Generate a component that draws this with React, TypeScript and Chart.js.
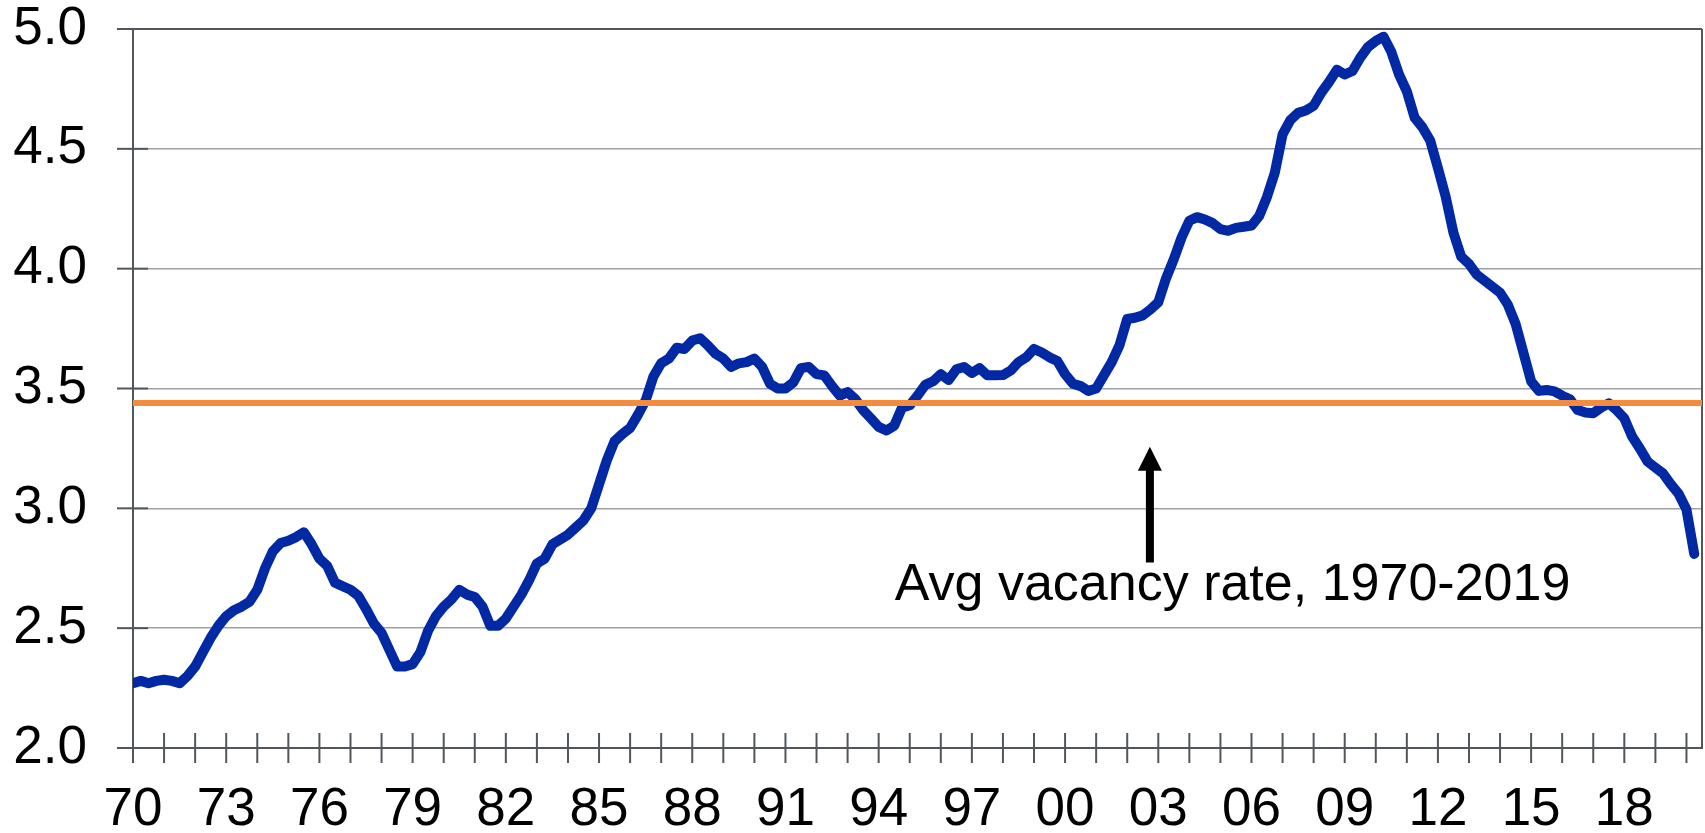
import { useEffect, useRef } from "react";
import { Chart, registerables } from "chart.js";

Chart.register(...registerables);

// ---- Data (quarterly, starting 1970 Q1) ----
const startYear = 1970;
const vacancy1970s = [
  2.27, 2.28, 2.27, 2.28,
  2.285, 2.28, 2.27, 2.3,
  2.34, 2.4, 2.46, 2.51,
  2.55, 2.575, 2.59, 2.61,
  2.66, 2.75, 2.82, 2.855,
  2.865, 2.88, 2.9, 2.85,
  2.79, 2.76, 2.69, 2.675,
  2.66, 2.635, 2.58, 2.52,
  2.48, 2.41, 2.34, 2.34,
  2.35, 2.4, 2.49, 2.55,
];
const vacancy1980s = [
  2.59, 2.62, 2.66, 2.64,
  2.63, 2.59, 2.51, 2.51,
  2.54, 2.59, 2.64, 2.7,
  2.77, 2.79, 2.85, 2.87,
  2.89, 2.92, 2.95, 3.0,
  3.1, 3.2, 3.28, 3.31,
  3.335, 3.39, 3.45, 3.55,
  3.605, 3.625, 3.67, 3.665,
  3.7, 3.71, 3.68, 3.645,
  3.625, 3.59, 3.605, 3.61,
];
const vacancy1990s = [
  3.625, 3.59, 3.52, 3.5,
  3.5, 3.525, 3.585, 3.59,
  3.56, 3.555, 3.51, 3.47,
  3.485, 3.455, 3.41, 3.375,
  3.34, 3.325, 3.345, 3.42,
  3.43, 3.47, 3.515, 3.53,
  3.56, 3.535, 3.58, 3.59,
  3.565, 3.585, 3.555, 3.555,
  3.556, 3.575, 3.61, 3.63,
  3.665, 3.65, 3.63, 3.615,
];
const vacancy2000s = [
  3.56, 3.52, 3.51, 3.49,
  3.5, 3.555, 3.61, 3.68,
  3.79, 3.795, 3.805, 3.83,
  3.86, 3.96, 4.04, 4.13,
  4.2, 4.215, 4.205, 4.19,
  4.165, 4.158, 4.17, 4.175,
  4.18, 4.22, 4.3, 4.4,
  4.56, 4.62, 4.65, 4.66,
  4.68, 4.735, 4.78, 4.83,
  4.81, 4.825, 4.88, 4.925,
];
const vacancy2010s = [
  4.95, 4.968, 4.905, 4.81,
  4.74, 4.63, 4.59, 4.535,
  4.42, 4.3, 4.15, 4.05,
  4.02, 3.975, 3.95, 3.925,
  3.9, 3.85, 3.77, 3.65,
  3.53, 3.49, 3.494, 3.488,
  3.47, 3.455, 3.41, 3.4,
  3.397, 3.42, 3.438, 3.41,
  3.375, 3.3, 3.25, 3.195,
  3.17, 3.145, 3.1, 3.06,
];
const vacancy2020s = [2.995, 2.81];

const avgVacancy = 3.44;
const avgSpan = [1970, 2020.5];

const xTickYears = [1970, 1973, 1976, 1979, 1982, 1985, 1988, 1991, 1994, 1997, 2000, 2003, 2006, 2009, 2012, 2015, 2018];
const xTickLabels = ["70", "73", "76", "79", "82", "85", "88", "91", "94", "97", "00", "03", "06", "09", "12", "15", "18"];
const yTickValues = [2.0, 2.5, 3.0, 3.5, 4.0, 4.5, 5.0];

const annotationText = "Avg vacancy rate, 1970-2019";
// annotation anchor positions in data units
const arrowX = 2002.73;
const arrowTipY = 3.257;
const arrowBaseY = 2.774;
const textX = 1994.52;
const textBaselineY = 2.618;

// ---- Styles ----
const FONT = '"Liberation Sans", Arial, sans-serif';
const DARK = "#50565c";
const GRID = "#9ea1a4";
const BLUE = "#0029a3";
const ORANGE = "#f58b3c";

const decorPlugin = {
  id: "decor",
  beforeDatasetsDraw(chart: any) {
    const { ctx, chartArea: a, scales } = chart;
    const x = scales.x;
    const y = scales.y;
    ctx.save();
    ctx.strokeStyle = DARK;
    ctx.lineWidth = 2;
    // top frame
    ctx.beginPath();
    ctx.moveTo(a.left - 16, a.top);
    ctx.lineTo(a.right, a.top);
    ctx.stroke();
    // right frame
    ctx.beginPath();
    ctx.moveTo(a.right, a.top);
    ctx.lineTo(a.right, a.bottom);
    ctx.stroke();
    // y cross ticks
    yTickValues.forEach((v) => {
      const py = y.getPixelForValue(v);
      ctx.beginPath();
      ctx.moveTo(a.left - 16, py);
      ctx.lineTo(a.left + 15, py);
      ctx.stroke();
    });
    // x cross ticks each year
    for (let yr = 1970; yr <= 2020; yr++) {
      const px = x.getPixelForValue(yr);
      ctx.beginPath();
      ctx.moveTo(px, a.bottom - 15);
      ctx.lineTo(px, a.bottom + 15);
      ctx.stroke();
    }
    ctx.restore();
  },
  afterDatasetsDraw(chart: any) {
    const { ctx, scales } = chart;
    const x = scales.x;
    const y = scales.y;
    ctx.save();
    const ax = x.getPixelForValue(arrowX);
    const tip = y.getPixelForValue(arrowTipY);
    const base = y.getPixelForValue(arrowBaseY);
    ctx.strokeStyle = "#000";
    ctx.fillStyle = "#000";
    ctx.lineWidth = 8;
    ctx.beginPath();
    ctx.moveTo(ax, base);
    ctx.lineTo(ax, tip + 20);
    ctx.stroke();
    ctx.beginPath();
    ctx.moveTo(ax, tip);
    ctx.lineTo(ax - 12, tip + 24);
    ctx.lineTo(ax + 12, tip + 24);
    ctx.closePath();
    ctx.fill();
    ctx.font = `52px ${FONT}`;
    ctx.textAlign = "left";
    ctx.textBaseline = "alphabetic";
    ctx.fillText(annotationText, x.getPixelForValue(textX), y.getPixelForValue(textBaselineY));
    ctx.restore();
  },
};

export default function App() {
  const ref = useRef<HTMLCanvasElement | null>(null);

  useEffect(() => {
    if (!ref.current) return;
    const series = [...vacancy1970s, ...vacancy1980s, ...vacancy1990s, ...vacancy2000s, ...vacancy2010s, ...vacancy2020s];
    const points = series.map((v, i) => ({ x: startYear + i / 4, y: v }));
    const avgPoints = avgSpan.map((yr) => ({ x: yr, y: avgVacancy }));

    const chart = new Chart(ref.current, {
      type: "line",
      data: {
        datasets: [
          {
            label: "Avg",
            data: avgPoints,
            borderColor: ORANGE,
            borderWidth: 6,
            pointRadius: 0,
            order: 0,
          },
          {
            label: "Vacancy rate",
            data: points,
            borderColor: BLUE,
            borderWidth: 10,
            pointRadius: 0,
            tension: 0,
            borderJoinStyle: "round",
            borderCapStyle: "round",
            order: 1,
          },
        ],
      },
      options: {
        responsive: false,
        animation: false,
        events: [],
        layout: { padding: { top: 29, right: 3, left: 0, bottom: 0 } },
        plugins: { legend: { display: false }, tooltip: { enabled: false } },
        scales: {
          x: {
            type: "linear",
            min: 1970,
            max: 2020.5,
            afterBuildTicks: (s: any) => {
              s.ticks = xTickYears.map((v) => ({ value: v }));
            },
            afterFit: (s: any) => {
              s.height = 85;
              s.paddingLeft = 0;
              s.paddingRight = 0;
            },
            grid: { display: false },
            border: { display: true, color: DARK, width: 2 },
            ticks: {
              autoSkip: false,
              maxRotation: 0,
              minRotation: 0,
              padding: 23,
              color: "#000",
              font: { family: FONT, size: 53 },
              callback: (v: any) => {
                const i = xTickYears.indexOf(Number(v));
                return i >= 0 ? xTickLabels[i] : "";
              },
            },
          },
          y: {
            min: 2,
            max: 5,
            afterBuildTicks: (s: any) => {
              s.ticks = yTickValues.map((v) => ({ value: v }));
            },
            afterFit: (s: any) => {
              s.width = 133;
              s.paddingTop = 0;
              s.paddingBottom = 0;
            },
            grid: { color: GRID, lineWidth: 1.5, drawTicks: false },
            border: { display: true, color: DARK, width: 2 },
            ticks: {
              padding: 46,
              color: "#000",
              font: { family: FONT, size: 53, lineHeight: 1 },
              callback: (v: any) => Number(v).toFixed(1),
            },
          },
        },
      },
      plugins: [decorPlugin],
    });
    return () => chart.destroy();
  }, []);

  return (
    <div style={{ position: "absolute", left: 0, top: 0, width: 1705, height: 833, background: "#fff" }}>
      <canvas ref={ref} width={1705} height={833} style={{ display: "block" }} />
    </div>
  );
}
